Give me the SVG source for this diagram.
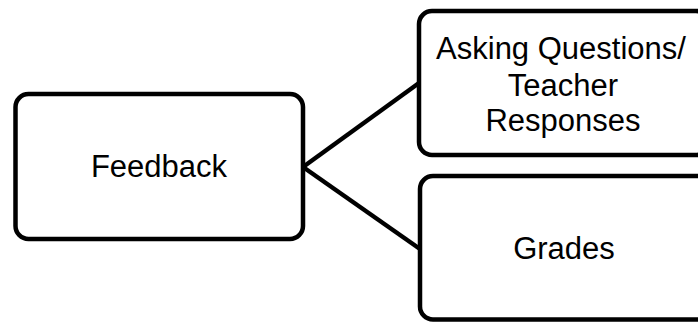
<svg xmlns="http://www.w3.org/2000/svg" width="698" height="322" viewBox="0 0 698 322">
  <style>
    .box { fill: #ffffff; stroke: #000000; stroke-width: 4.5; }
    .link { stroke: #000000; stroke-width: 4.5; fill: none; }
    .label { font-family: "Liberation Sans", Arial, sans-serif; font-size: 31px; fill: #000000; text-anchor: middle; }
  </style>
  <rect width="698" height="322" fill="#ffffff"/>
  <g id="connectors">
    <line class="link" x1="303" y1="167" x2="419" y2="83"/>
    <line class="link" x1="303" y1="167" x2="420" y2="249"/>
  </g>
  <g id="node-feedback">
    <rect class="box" x="15.5" y="94" width="287.5" height="145" rx="13" ry="13"/>
    <text class="label" x="159" y="176.5">Feedback</text>
  </g>
  <g id="node-questions">
    <rect class="box" x="419" y="11" width="290" height="144" rx="13" ry="13"/>
    <text class="label" x="561" y="59">Asking Questions/</text>
    <text class="label" x="563" y="96">Teacher</text>
    <text class="label" x="563" y="130.5">Responses</text>
  </g>
  <g id="node-grades">
    <rect class="box" x="420" y="176" width="290" height="143.5" rx="13" ry="13"/>
    <text class="label" x="564" y="259">Grades</text>
  </g>
</svg>
